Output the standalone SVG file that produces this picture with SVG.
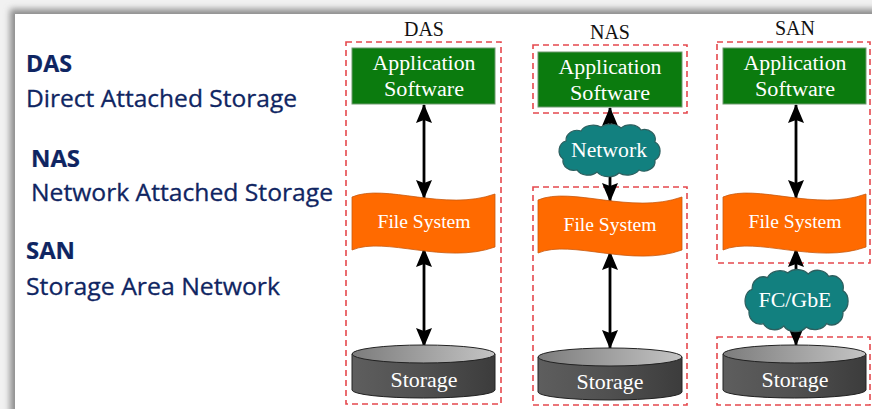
<svg xmlns="http://www.w3.org/2000/svg" xmlns:xlink="http://www.w3.org/1999/xlink" width="872" height="409" viewBox="0 0 872 409">
  <defs>
    <style>
      .lbl { font-family: "Open Sans", "Noto Sans", sans-serif; fill: #0f2562; stroke: #0f2562; stroke-width: 0.3; font-size: 23.5px; }
      .lbl.b { font-weight: bold; stroke-width: 0.2; }
      .title { font-family: "Liberation Serif", serif; font-size: 20px; fill: #111; text-anchor: middle; }
      .wt { font-family: "Liberation Serif", serif; fill: #ffffff; text-anchor: middle; }
      .dash { fill: none; stroke: #e5484d; stroke-width: 1.6; stroke-dasharray: 6 4; }
      .app { fill: #0b7b0e; stroke: #6f9a6f; stroke-width: 1; }
      .fs { fill: #ff6a00; stroke: #c85a10; stroke-width: 0.8; }
      .cloud { fill: #12807f; stroke: #2d5f5f; stroke-width: 1.2; }
      .conn { stroke: #000; stroke-width: 2.8; fill: none; }
      .cylTop { fill: url(#topG); stroke: #222; stroke-width: 1; }
      .cylBody { fill: url(#bodyG); stroke: #222; stroke-width: 1; }
    </style>
    <filter id="sh" x="-5%" y="-5%" width="110%" height="110%">
      <feGaussianBlur stdDeviation="3"/>
    </filter>
    <linearGradient id="topG" x1="0" y1="0" x2="1" y2="0">
      <stop offset="0" stop-color="#7c7c7c"/>
      <stop offset="1" stop-color="#c4c4c4"/>
    </linearGradient>
    <linearGradient id="bodyG" x1="0" y1="0" x2="1" y2="0">
      <stop offset="0" stop-color="#5e5e5e"/>
      <stop offset="0.5" stop-color="#505050"/>
      <stop offset="1" stop-color="#3c3c3c"/>
    </linearGradient>
    <marker id="ah" viewBox="0 0 19 16" refX="18" refY="8" markerWidth="19" markerHeight="16" markerUnits="userSpaceOnUse" orient="auto-start-reverse">
      <path d="M0,0 L19,8 L0,16 L3,8 Z" fill="#000"/>
    </marker>
    <path id="fsShape" d="M0,0 C33,-14 93,15 143,-3 L143,50 C93,68 33,39 0,53 Z"/>
    <path id="cloudShape" d="M-43,-9 A11,10 0 0 1 -28,-19 A13,9 0 0 1 -8,-23 A13,9 0 0 1 12,-22 A12,9 0 0 1 32,-20 A11,10 0 0 1 46,-8 A9,10 0 0 1 46,10 A11,10 0 0 1 30,20 A13,9 0 0 1 10,23 A13,9 0 0 1 -12,22 A12,9 0 0 1 -32,20 A11,10 0 0 1 -46,9 A9,10 0 0 1 -43,-9 Z"/>
  </defs>

  <!-- slide frame -->
  <rect x="0" y="0" width="872" height="409" fill="#f1f1f1"/>
  <rect x="10" y="9" width="900" height="430" fill="#8e8e8e" filter="url(#sh)"/>
  <rect x="15" y="14" width="857" height="395" fill="#ffffff"/>

  <!-- left labels -->
  <g id="legend">
    <text class="lbl b" x="26" y="72" textLength="46" lengthAdjust="spacingAndGlyphs">DAS</text>
    <text class="lbl" x="26" y="107" textLength="271" lengthAdjust="spacingAndGlyphs">Direct Attached Storage</text>
    <text class="lbl b" x="31" y="167" textLength="49" lengthAdjust="spacingAndGlyphs">NAS</text>
    <text class="lbl" x="31" y="201" textLength="302" lengthAdjust="spacingAndGlyphs">Network Attached Storage</text>
    <text class="lbl b" x="26" y="259" textLength="49" lengthAdjust="spacingAndGlyphs">SAN</text>
    <text class="lbl" x="26" y="295" textLength="254" lengthAdjust="spacingAndGlyphs">Storage Area Network</text>
  </g>

  <!-- column titles -->
  <g id="titles">
    <text class="title" x="424" y="36">DAS</text>
    <text class="title" x="610" y="39">NAS</text>
    <text class="title" x="795" y="35">SAN</text>
  </g>

  <!-- dashed boundaries -->
  <g id="boundaries">
    <rect class="dash" x="346" y="42" width="155" height="362"/>
    <rect class="dash" x="533" y="45" width="154" height="68"/>
    <rect class="dash" x="533" y="187" width="154" height="218"/>
    <rect class="dash" x="717" y="42" width="153" height="221"/>
    <rect class="dash" x="717" y="337" width="153" height="68"/>
  </g>

  <!-- connectors -->
  <g id="connectors">
    <line class="conn" x1="424" y1="105" x2="424" y2="198" marker-start="url(#ah)" marker-end="url(#ah)"/>
    <line class="conn" x1="424" y1="249" x2="424" y2="346" marker-start="url(#ah)" marker-end="url(#ah)"/>
    <line class="conn" x1="610" y1="108" x2="610" y2="201" marker-start="url(#ah)" marker-end="url(#ah)"/>
    <line class="conn" x1="610" y1="252" x2="610" y2="348" marker-start="url(#ah)" marker-end="url(#ah)"/>
    <line class="conn" x1="796" y1="105" x2="796" y2="198" marker-start="url(#ah)" marker-end="url(#ah)"/>
    <line class="conn" x1="796" y1="249" x2="796" y2="345" marker-start="url(#ah)" marker-end="url(#ah)"/>
  </g>

  <!-- DAS nodes -->
  <g id="das-app">
    <rect class="app" x="352" y="48" width="143" height="56"/>
    <text class="wt" x="424" y="70" font-size="20" textLength="103" lengthAdjust="spacingAndGlyphs">Application</text>
    <text class="wt" x="424" y="96" font-size="20" textLength="80" lengthAdjust="spacingAndGlyphs">Software</text>
  </g>
  <g id="das-fs">
    <use href="#fsShape" class="fs" transform="translate(352,197)"/>
    <text class="wt" x="424" y="228" font-size="18" textLength="93" lengthAdjust="spacingAndGlyphs">File System</text>
  </g>
  <g id="das-storage">
    <path class="cylBody" d="M352,354 L352,390 A71.5,8 0 0 0 495,390 L495,354 Z"/>
    <ellipse class="cylTop" cx="423.5" cy="354" rx="71.5" ry="9"/>
    <text class="wt" x="424" y="387" font-size="21" textLength="67" lengthAdjust="spacingAndGlyphs">Storage</text>
  </g>

  <!-- NAS nodes -->
  <g id="nas-app">
    <rect class="app" x="538" y="52" width="144" height="55"/>
    <text class="wt" x="610" y="74" font-size="20" textLength="103" lengthAdjust="spacingAndGlyphs">Application</text>
    <text class="wt" x="610" y="100" font-size="20" textLength="80" lengthAdjust="spacingAndGlyphs">Software</text>
  </g>
  <g id="nas-network">
    <use href="#cloudShape" class="cloud" transform="translate(609,150)"/>
    <text class="wt" x="609" y="157" font-size="20" textLength="76" lengthAdjust="spacingAndGlyphs">Network</text>
  </g>
  <g id="nas-fs">
    <use href="#fsShape" class="fs" transform="translate(538,200) scale(1.007,1)"/>
    <text class="wt" x="610" y="231" font-size="18" textLength="93" lengthAdjust="spacingAndGlyphs">File System</text>
  </g>
  <g id="nas-storage">
    <path class="cylBody" d="M538,357 L538,392 A72,8 0 0 0 682,392 L682,357 Z"/>
    <ellipse class="cylTop" cx="610" cy="357" rx="72" ry="9"/>
    <text class="wt" x="610" y="389" font-size="21" textLength="67" lengthAdjust="spacingAndGlyphs">Storage</text>
  </g>

  <!-- SAN nodes -->
  <g id="san-app">
    <rect class="app" x="723" y="48" width="143" height="56"/>
    <text class="wt" x="795" y="70" font-size="20" textLength="103" lengthAdjust="spacingAndGlyphs">Application</text>
    <text class="wt" x="795" y="96" font-size="20" textLength="80" lengthAdjust="spacingAndGlyphs">Software</text>
  </g>
  <g id="san-fs">
    <use href="#fsShape" class="fs" transform="translate(723,197)"/>
    <text class="wt" x="795" y="228" font-size="18" textLength="93" lengthAdjust="spacingAndGlyphs">File System</text>
  </g>
  <g id="san-fcgbe">
    <use href="#cloudShape" class="cloud" transform="translate(796,300) scale(1.02,1.18)"/>
    <text class="wt" x="795" y="307" font-size="21" textLength="73" lengthAdjust="spacingAndGlyphs">FC/GbE</text>
  </g>
  <g id="san-storage">
    <path class="cylBody" d="M723,354 L723,390 A71.5,8 0 0 0 866,390 L866,354 Z"/>
    <ellipse class="cylTop" cx="794.5" cy="354" rx="71.5" ry="9"/>
    <text class="wt" x="795" y="387" font-size="21" textLength="67" lengthAdjust="spacingAndGlyphs">Storage</text>
  </g>
</svg>
